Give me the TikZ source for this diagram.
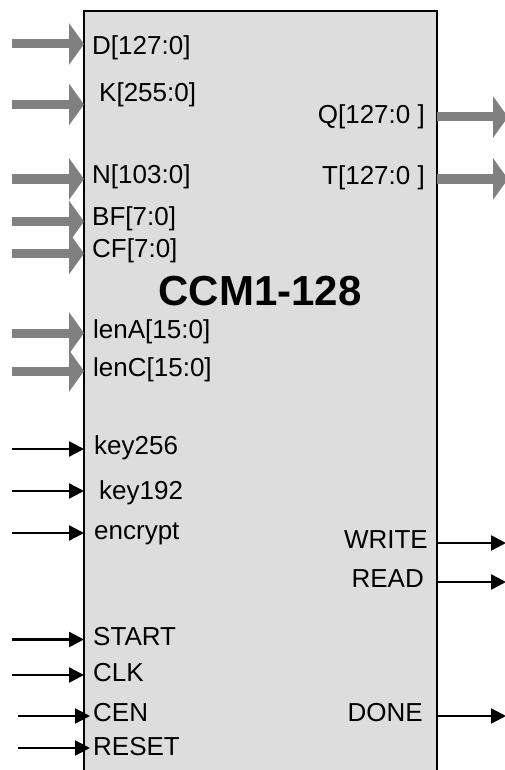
\documentclass[tikz,border=0pt]{standalone}
\usepackage{fontspec}
\setmainfont{Liberation Sans}
\usetikzlibrary{arrows.meta}
\definecolor{boxgray}{HTML}{DDDDDD}
\definecolor{busgray}{HTML}{808080}
\tikzset{
  fat/.style={line width=9pt, busgray, -{Triangle[length=15pt,width=41pt]}},
  thin/.style={line width=2.5pt, black, -{Triangle[length=15pt,width=15pt]}},
  lab/.style={inner sep=0pt, font=\fontsize{26pt}{28pt}\selectfont},
  llab/.style={lab, anchor=base west},
  rlab/.style={lab, anchor=base east},
}
\begin{document}
\begin{tikzpicture}[x=1pt,y=-1pt]
\clip (0,0) rectangle (505,770);
\useasboundingbox (0,0) rectangle (505,770);
\node[draw=black, line width=2pt, fill=boxgray, minimum width=353pt, minimum height=780pt, inner sep=0pt] (box) at (260.5,401) {};
\node[inner sep=0pt, anchor=base, font=\bfseries\fontsize{42pt}{44pt}\selectfont] (title) at (260,305) {CCM1-128};
% left labels
\node[llab] (lD) at (92,54.5) {D[127:0]};
\node[llab] (lK) at (99,102) {K[255:0]};
\node[llab] (lN) at (92,183) {N[103:0]};
\node[llab] (lBF) at (92,225) {BF[7:0]};
\node[llab] (lCF) at (92,257) {CF[7:0]};
\node[llab] (llenA) at (93,338) {lenA[15:0]};
\node[llab] (llenC) at (93,376) {lenC[15:0]};
\node[llab] (lk256) at (94,454) {key256};
\node[llab] (lk192) at (99,499) {key192};
\node[llab] (lenc) at (94,539) {encrypt};
\node[llab] (lstart) at (93,645) {START};
\node[llab] (lclk) at (93,681.5) {CLK};
\node[llab] (lcen) at (93,721.5) {CEN};
\node[llab] (lreset) at (93,755) {RESET};
% right labels
\node[rlab] (lQ) at (425,124) {Q[127:0 ]};
\node[rlab] (lT) at (425,184) {T[127:0 ]};
\node[rlab] (lW) at (428,548) {WRITE};
\node[rlab] (lR) at (424,587) {READ};
\node[rlab] (lDone) at (423,721) {DONE};
% coordinates
\foreach \n/\y in {D/44,K/104.5,N/179,BF/221.5,CF/253.5,lenA/333,lenC/371}{
  \coordinate (s\n) at (12,\y);
  \coordinate (e\n) at (84,\y);
}
\foreach \n/\y in {k256/449,k192/491,enc/533,start/639.5,clk/675}{
  \coordinate (s\n) at (12,\y);
  \coordinate (e\n) at (84,\y);
}
\foreach \n/\y in {cen/716,reset/748}{
  \coordinate (s\n) at (18,\y);
  \coordinate (e\n) at (90,\y);
}
\foreach \n/\y in {Q/117,T/179}{
  \coordinate (s\n) at (437,\y);
  \coordinate (e\n) at (508,\y);
}
\foreach \n/\y in {W/543,R/582,Done/716}{
  \coordinate (s\n) at (437,\y);
  \coordinate (e\n) at (506,\y);
}
% arrows
\foreach \n in {D,K,N,BF,CF,lenA,lenC}{\draw[fat] (s\n) -- (e\n);}
\foreach \n in {k256,k192,enc,start,clk,cen,reset}{\draw[thin] (s\n) -- (e\n);}
\foreach \n in {Q,T}{\draw[fat] (s\n) -- (e\n);}
\foreach \n in {W,R,Done}{\draw[thin] (s\n) -- (e\n);}
\end{tikzpicture}
\end{document}
